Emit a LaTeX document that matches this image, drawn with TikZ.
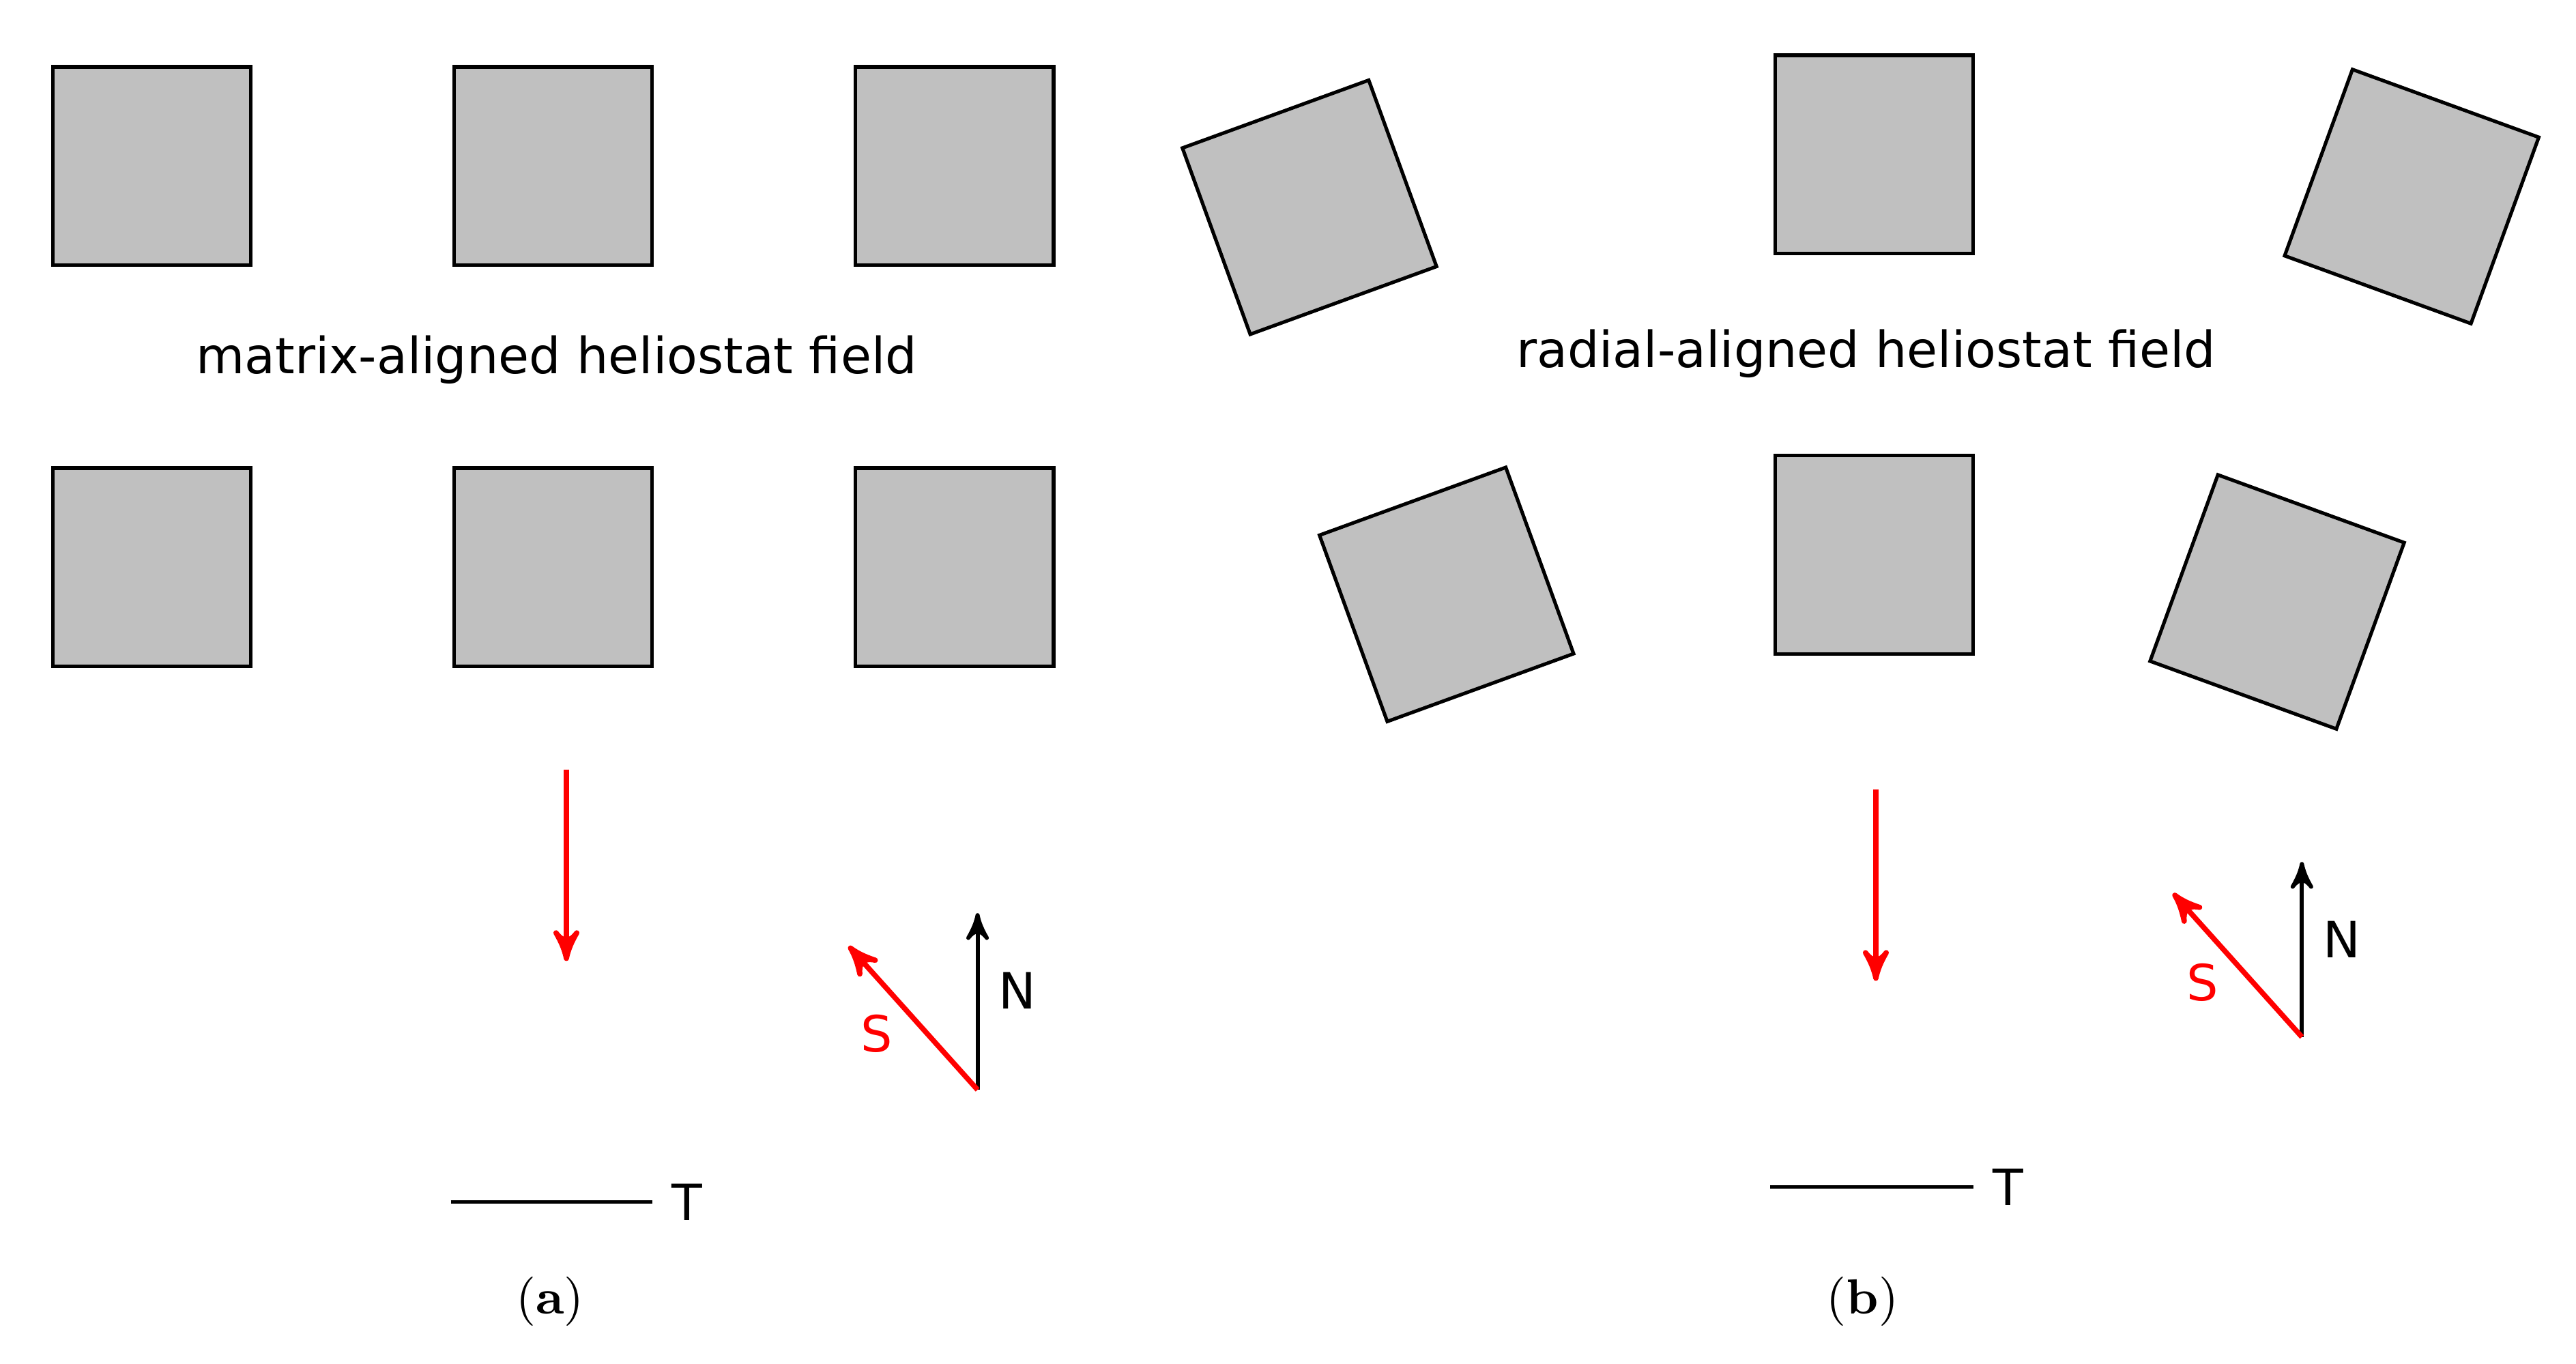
\documentclass[tikz,border=0pt]{standalone}
\usepackage{fontspec}
\setsansfont{DejaVu Sans}
\usetikzlibrary{arrows}

\begin{document}
\begin{tikzpicture}[x=0.01cm,y=-0.01cm,>=stealth',
  helio/.style={rectangle,fill={rgb,255:red,192;green,192;blue,192},draw,line width=0.6pt,minimum size=1.2cm,inner sep=0pt},
  sun arrow/.style={->,red,line width=0.9pt},
  dir arrow/.style={->,line width=0.7pt},
  lbl/.style={font=\sffamily\fontsize{8.6}{10}\selectfont,inner sep=0pt},
  sub caption/.style={font=\fontsize{8.5}{10}\selectfont,inner sep=0pt}]

  \useasboundingbox (0,0) rectangle (1560,826);

  % (a) matrix-aligned field
  \node[helio] (a1) at (92,100.5) {};
  \node[helio] (a2) at (335,100.5) {};
  \node[helio] (a3) at (578,100.5) {};
  \node[helio] (a4) at (92,343.5) {};
  \node[helio] (a5) at (335,343.5) {};
  \node[helio] (a6) at (578,343.5) {};
  \node[lbl] (ta) at (337,218) {matrix-aligned heliostat field};

  \coordinate (sa1) at (343,466);
  \coordinate (sa2) at (343,582);
  \draw[sun arrow] (sa1) -- (sa2);

  \coordinate (oa) at (592,660);
  \coordinate (na) at (592,553);
  \coordinate (ssa) at (514,573);
  \draw[dir arrow] (oa) -- (na);
  \draw[sun arrow] (oa) -- (ssa);
  \node[lbl] (Na) at (616,600) {N};
  \node[lbl,red] (Sa) at (531,626) {S};

  \coordinate (ta1) at (273,728);
  \coordinate (ta2) at (395,728);
  \draw[line width=0.6pt] (ta1) -- (ta2);
  \node[lbl] (Ta) at (416,728) {T};
  \node[sub caption] (capa) at (333,788) {(\textbf{a})};

  % (b) radial-aligned field
  \node[helio,rotate=20] (b1) at (793,125.5) {};
  \node[helio] (b2) at (1135,93.5) {};
  \node[helio,rotate=-20] (b3) at (1460.5,119) {};
  \node[helio,rotate=20] (b4) at (876,360) {};
  \node[helio] (b5) at (1135,336) {};
  \node[helio,rotate=-20] (b6) at (1379,364.5) {};
  \node[lbl] (tb) at (1130,214) {radial-aligned heliostat field};

  \coordinate (sb1) at (1136,478);
  \coordinate (sb2) at (1136,594);
  \draw[sun arrow] (sb1) -- (sb2);

  \coordinate (ob) at (1394,628);
  \coordinate (nb) at (1394,522);
  \coordinate (ssb) at (1316,541);
  \draw[dir arrow] (ob) -- (nb);
  \draw[sun arrow] (ob) -- (ssb);
  \node[lbl] (Nb) at (1418,569) {N};
  \node[lbl,red] (Sb) at (1334,595) {S};

  \coordinate (tb1) at (1072,719);
  \coordinate (tb2) at (1195,719);
  \draw[line width=0.6pt] (tb1) -- (tb2);
  \node[lbl] (Tb) at (1216,719) {T};
  \node[sub caption] (capb) at (1128,788) {(\textbf{b})};

\end{tikzpicture}
\end{document}
